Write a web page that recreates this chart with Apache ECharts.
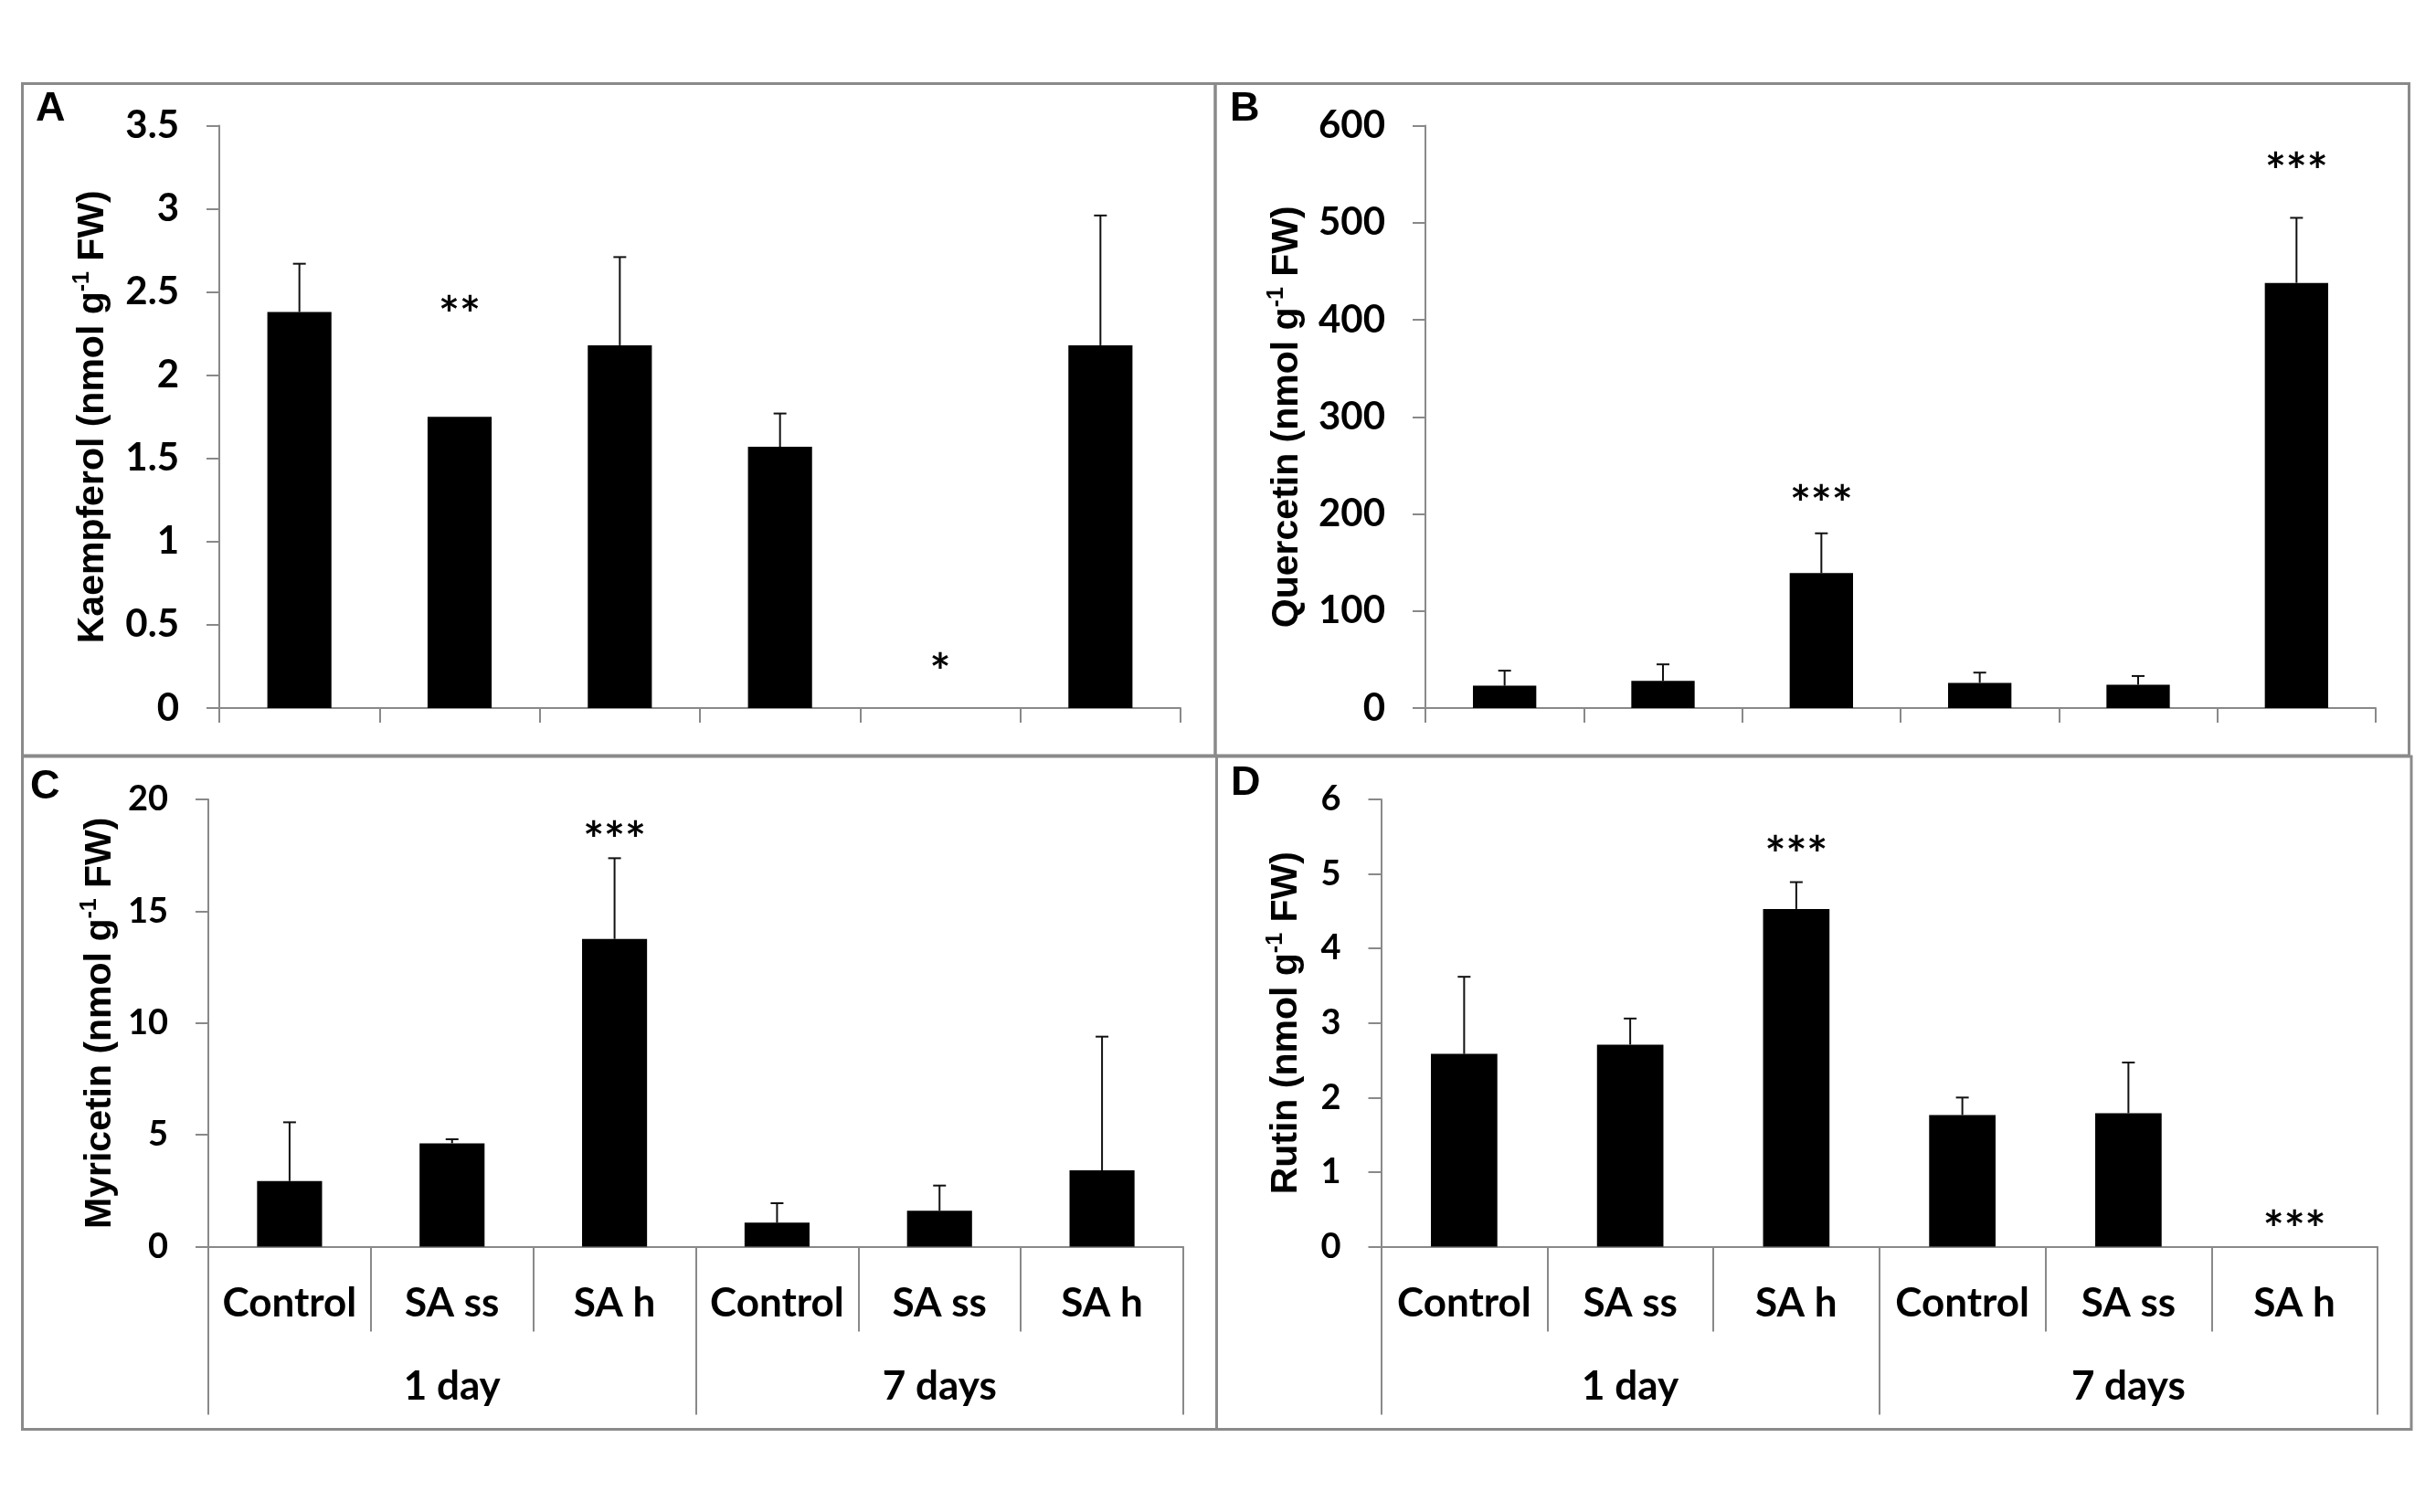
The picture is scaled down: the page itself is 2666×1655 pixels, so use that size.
<!DOCTYPE html>
<html>
<head>
<meta charset="utf-8">
<script src="https://cdn.jsdelivr.net/npm/echarts@6/dist/echarts.min.js"></script>
<style>
  html, body { margin: 0; padding: 0; background: #fff; }
  #c { width: 2666px; height: 1655px; }
</style>
</head>
<body>
<div id="c"></div>
<script>
// ---------------- data ----------------
const categories = ['Control', 'SA ss', 'SA h', 'Control', 'SA ss', 'SA h'];
const groups = ['1 day', '7 days'];

const kaempferol    = [2.38, 1.75, 2.18, 1.57, 0, 2.18];
const kaempferolErr = [0.29, 0, 0.53, 0.20, 0, 0.78];
const kaempferolSig = ['', '**', '', '', '*', ''];
const kaempferolSigAt = [0, 2.42, 0, 0, 0.27, 0];

const quercetin    = [23, 28, 139, 26, 24, 438];
const quercetinErr = [15.5, 17, 41, 10.5, 9, 67];
const quercetinSig = ['', '', '***', '', '', '***'];
const quercetinSigAt = [0, 0, 220, 0, 0, 562];

const myricetin    = [2.93, 4.62, 13.76, 1.07, 1.6, 3.41];
const myricetinErr = [2.63, 0.18, 3.61, 0.87, 1.13, 5.98];
const myricetinSig = ['', '', '***', '', '', ''];
const myricetinSigAt = [0, 0, 18.6, 0, 0, 0];

const rutin    = [2.585, 2.71, 4.53, 1.765, 1.79, 0];
const rutinErr = [1.035, 0.35, 0.36, 0.235, 0.68, 0];
const rutinSig = ['', '', '***', '', '', '***'];
const rutinSigAt = [0, 0, 5.38, 0, 0, 0.36];

const yTicksA = { min: 0, max: 3.5, interval: 0.5 };
const yTicksB = { min: 0, max: 600, interval: 100 };
const yTicksC = { min: 0, max: 20, interval: 5 };
const yTicksD = { min: 0, max: 6, interval: 1 };

// ---------------- styles ----------------
const AXIS = '#898989';
const LATO = 'Lato, "Open Sans", sans-serif';
const ARIAL = '"Liberation Sans", Arial, sans-serif';

function titleName(main) {
  return '{t|' + main + ' (nmol g}{s|-1}{t| FW)}';
}
function nameStyle() {
  return {
    color: '#000',
    rich: {
      t: { fontFamily: ARIAL, fontWeight: 'bold', fontSize: 41, color: '#000', lineHeight: 48 },
      s: { fontFamily: ARIAL, fontWeight: 'bold', fontSize: 25, color: '#000', verticalAlign: 'top' }
    }
  };
}

function yAxis(gridIndex, ticks, name, gap, labelSize) {
  return {
    type: 'value', gridIndex: gridIndex,
    min: ticks.min, max: ticks.max, interval: ticks.interval,
    name: titleName(name), nameLocation: 'middle', nameRotate: 90, nameGap: gap,
    nameTextStyle: nameStyle(),
    axisLine: { show: true, lineStyle: { color: AXIS, width: 2 } },
    axisTick: { show: true, inside: false, length: 14, lineStyle: { color: AXIS, width: 2 } },
    axisLabel: { margin: 44, fontFamily: LATO, fontWeight: 'bold', fontSize: labelSize, color: '#000' },
    splitLine: { show: false }
  };
}

function catAxis(gridIndex, showLabels, tickLen) {
  return {
    type: 'category', gridIndex: gridIndex, data: categories, position: 'bottom',
    axisLine: { show: true, lineStyle: { color: AXIS, width: 2 } },
    axisTick: { show: true, inside: false, length: tickLen, lineStyle: { color: AXIS, width: 2 } },
    axisLabel: { show: showLabels, margin: 40, interval: 0, fontFamily: LATO, fontWeight: 'bold', fontSize: 44, color: '#000' },
    splitLine: { show: false }
  };
}
function groupAxis(gridIndex) {
  return {
    type: 'category', gridIndex: gridIndex, data: groups, position: 'bottom', offset: 0,
    axisLine: { show: false },
    axisTick: { show: true, inside: false, length: 184, lineStyle: { color: AXIS, width: 2 } },
    axisLabel: { show: true, margin: 131, interval: 0, fontFamily: LATO, fontWeight: 'bold', fontSize: 44, color: '#000' },
    splitLine: { show: false }
  };
}

function barSeries(x, y, vals) {
  return {
    type: 'bar', xAxisIndex: x, yAxisIndex: y, data: vals, barWidth: '40%',
    itemStyle: { color: '#000' }, silent: true, animation: false
  };
}
function errSeries(x, y, vals, errs) {
  return {
    type: 'custom', xAxisIndex: x, yAxisIndex: y, animation: false, silent: true,
    data: vals.map(function (v, i) { return [i, v, errs[i]]; }),
    renderItem: function (params, api) {
      const v = api.value(1), e = api.value(2);
      if (!e || isNaN(e) || e <= 0) return null;
      const p0 = api.coord([api.value(0), v]);
      const p1 = api.coord([api.value(0), v + e]);
      return {
        type: 'group',
        children: [
          { type: 'line', shape: { x1: p0[0], y1: p0[1], x2: p1[0], y2: p1[1] }, style: { stroke: '#111', lineWidth: 2 } },
          { type: 'line', shape: { x1: p1[0] - 7, y1: p1[1], x2: p1[0] + 7, y2: p1[1] }, style: { stroke: '#111', lineWidth: 2 } }
        ]
      };
    }
  };
}
function sigSeries(x, y, sig, at) {
  return {
    type: 'custom', xAxisIndex: x, yAxisIndex: y, animation: false, silent: true,
    data: at.map(function (v, i) { return [i, v]; }),
    renderItem: function (params, api) {
      const txt = sig[params.dataIndex];
      if (!txt) return null;
      const p = api.coord([api.value(0), api.value(1)]);
      return {
        type: 'text',
        style: {
          text: txt, x: p[0], y: p[1] + 11, align: 'center', verticalAlign: 'middle',
          font: 'bold 54px ' + LATO, fill: '#000'
        }
      };
    }
  };
}

function border(x, y, w, h) {
  return { type: 'rect', shape: { x: x, y: y, width: w, height: h },
    style: { fill: 'none', stroke: '#8a8a8a', lineWidth: 3 }, silent: true };
}
function letter(t, x, y) {
  return { type: 'text', x: x, y: y,
    style: { text: t, font: 'bold 45px ' + ARIAL, fill: '#000', verticalAlign: 'top', align: 'left' }, silent: true };
}

const option = {
  backgroundColor: '#fff',
  animation: false,
  grid: [
    { left: 240, top: 137.5, width: 1052, height: 637.5, outerBoundsMode: 'none' },
    { left: 1560, top: 137.5, width: 1040, height: 637.5, outerBoundsMode: 'none' },
    { left: 228, top: 875, width: 1067, height: 489.5, outerBoundsMode: 'none' },
    { left: 1511.5, top: 875, width: 1090.5, height: 489.5, outerBoundsMode: 'none' }
  ],
  xAxis: [
    catAxis(0, false, 16),
    catAxis(1, false, 16),
    catAxis(2, true, 93),
    groupAxis(2),
    catAxis(3, true, 93),
    groupAxis(3)
  ],
  yAxis: [
    yAxis(0, yTicksA, 'Kaempferol', 114, 42),
    yAxis(1, yTicksB, 'Quercetin', 127, 42),
    yAxis(2, yTicksC, 'Myricetin', 94, 38),
    yAxis(3, yTicksD, 'Rutin', 80, 38)
  ],
  series: [
    barSeries(0, 0, kaempferol), errSeries(0, 0, kaempferol, kaempferolErr), sigSeries(0, 0, kaempferolSig, kaempferolSigAt),
    barSeries(1, 1, quercetin), errSeries(1, 1, quercetin, quercetinErr), sigSeries(1, 1, quercetinSig, quercetinSigAt),
    barSeries(2, 2, myricetin), errSeries(2, 2, myricetin, myricetinErr), sigSeries(2, 2, myricetinSig, myricetinSigAt),
    barSeries(4, 3, rutin), errSeries(4, 3, rutin, rutinErr), sigSeries(4, 3, rutinSig, rutinSigAt)
  ],
  graphic: [
    border(24.5, 91.5, 1305.5, 735.5),
    border(1330, 91.5, 1306.5, 735.5),
    border(24.5, 828, 1307, 736.5),
    border(1331.5, 828, 1307.5, 736.5),
    letter('A', 39, 97),
    letter('B', 1346, 97),
    letter('C', 33, 839),
    letter('D', 1347, 835)
  ]
};

const chart = echarts.init(document.getElementById('c'), null, { renderer: 'canvas', width: 2666, height: 1655 });
chart.setOption(option);
</script>
</body>
</html>
